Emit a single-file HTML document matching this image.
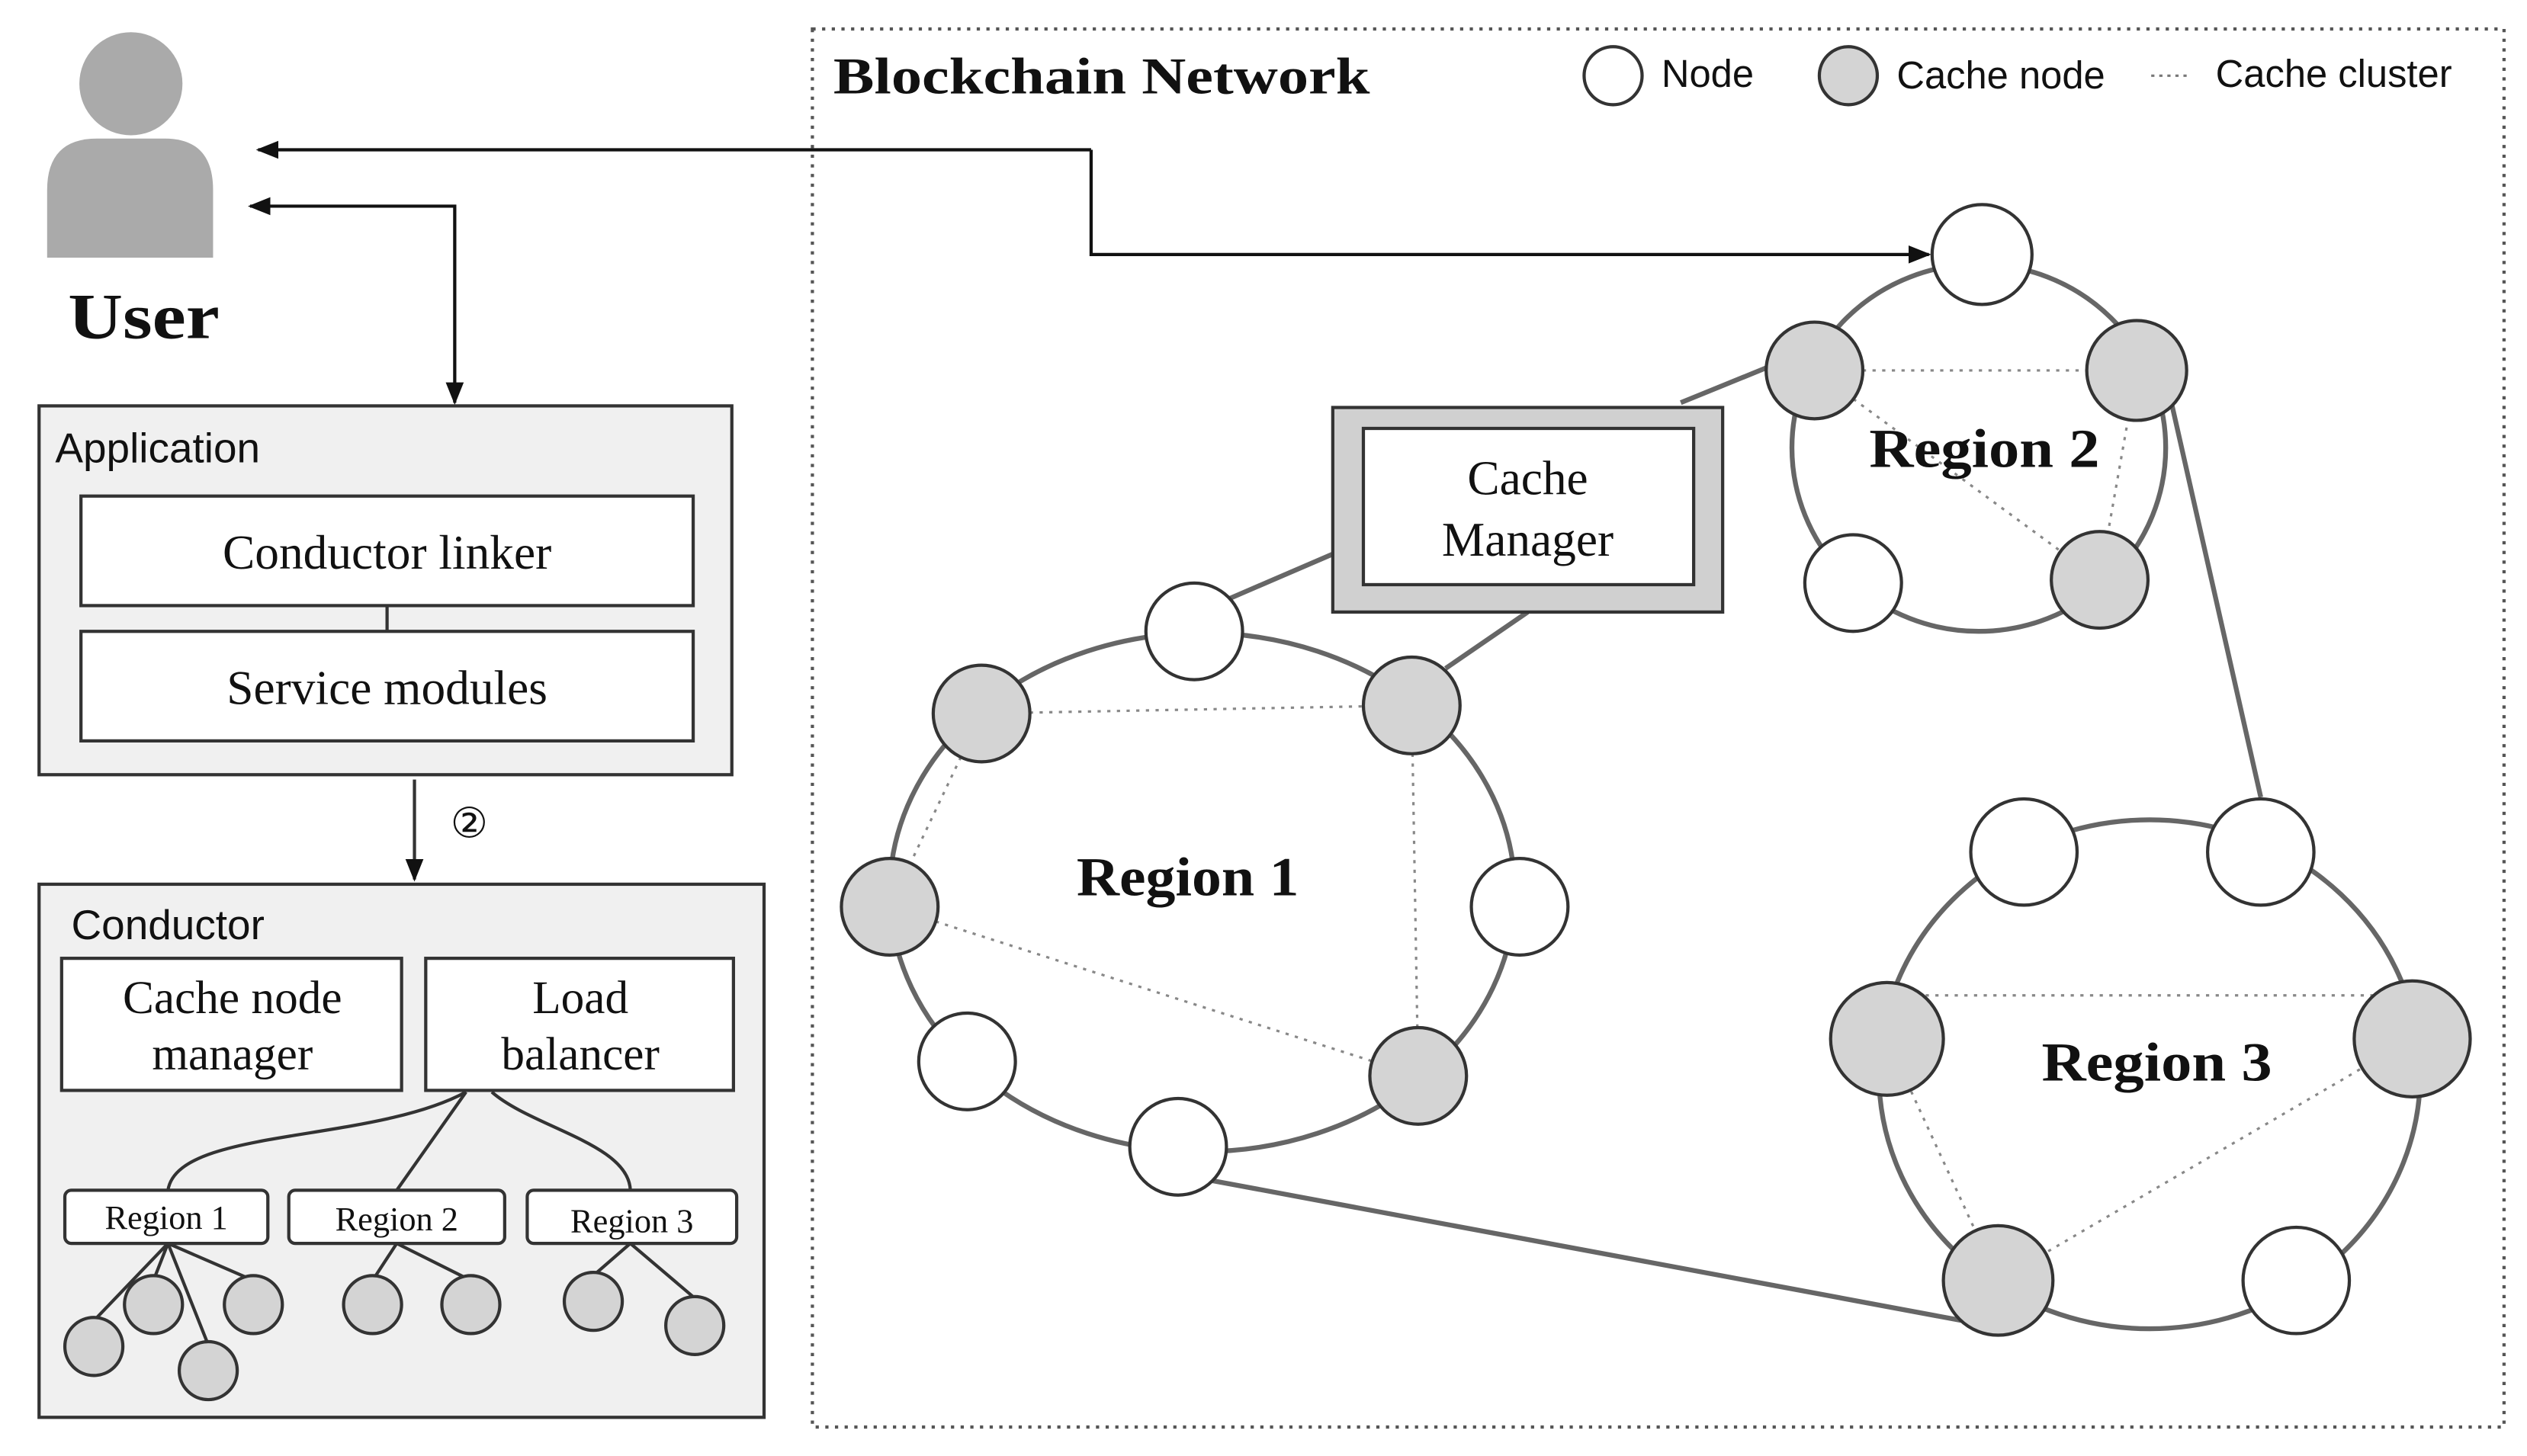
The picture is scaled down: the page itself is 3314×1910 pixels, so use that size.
<!DOCTYPE html>
<html><head><meta charset="utf-8"><style>html,body{margin:0;padding:0;background:#fff}svg{display:block}</style></head>
<body>
<svg width="3314" height="1910" viewBox="0 0 1568 904" xmlns="http://www.w3.org/2000/svg">
<defs>
<marker id="ah" viewBox="0 0 10 10" refX="9" refY="5" markerWidth="7" markerHeight="7" orient="auto-start-reverse"><path d="M0,1 L10,5 L0,9 z" fill="#111"/></marker>
</defs>
<rect width="1568" height="904" fill="#fff"/>
<circle cx="81" cy="52" r="32" fill="#aaa"/>
<path d="M29,160 L29,118 Q29,86 60,86 L102,86 Q132,86 132,118 L132,160 Z" fill="#aaa"/>
<text x="42" y="210" textLength="94" lengthAdjust="spacingAndGlyphs" font-family="Liberation Serif, serif" font-weight="bold" font-size="40" fill="#111">User</text>
<polyline points="677,93 160,93" fill="none" stroke="#111" stroke-width="2" marker-end="url(#ah)"/>
<polyline points="677,93 677,158 1197,158" fill="none" stroke="#111" stroke-width="2" marker-end="url(#ah)"/>
<polyline points="155,128 282,128 282,250" fill="none" stroke="#111" stroke-width="2" marker-start="url(#ah)" marker-end="url(#ah)"/>
<rect x="24" y="252" width="430" height="229" fill="#f0f0f0" stroke="#333" stroke-width="2"/>
<text x="34" y="287" font-family="Liberation Sans, sans-serif" font-size="26" fill="#111">Application</text>
<line x1="240" y1="376" x2="240" y2="392" stroke="#333" stroke-width="2"/>
<rect x="50" y="308" width="380" height="68" fill="#fff" stroke="#333" stroke-width="2"/>
<text x="240" y="353" text-anchor="middle" font-family="Liberation Serif, serif" font-size="30" fill="#111">Conductor linker</text>
<rect x="50" y="392" width="380" height="68" fill="#fff" stroke="#333" stroke-width="2"/>
<text x="240" y="437" text-anchor="middle" font-family="Liberation Serif, serif" font-size="30" fill="#111">Service modules</text>
<line x1="257" y1="484" x2="257" y2="546" stroke="#333" stroke-width="2" marker-end="url(#ah)"/>
<text x="291" y="520" text-anchor="middle" font-family="DejaVu Sans, sans-serif" font-size="26" fill="#111">②</text>
<rect x="24" y="549" width="450" height="331" fill="#f0f0f0" stroke="#333" stroke-width="2"/>
<text x="44" y="583" font-family="Liberation Sans, sans-serif" font-size="26" fill="#111">Conductor</text>
<rect x="38" y="595" width="211" height="82" fill="#fff" stroke="#333" stroke-width="2"/>
<text x="144" y="629" text-anchor="middle" font-family="Liberation Serif, serif" font-size="29" fill="#111">Cache node</text>
<text x="144" y="664" text-anchor="middle" font-family="Liberation Serif, serif" font-size="29" fill="#111">manager</text>
<rect x="264" y="595" width="191" height="82" fill="#fff" stroke="#333" stroke-width="2"/>
<text x="360" y="629" text-anchor="middle" font-family="Liberation Serif, serif" font-size="29" fill="#111">Load</text>
<text x="360" y="664" text-anchor="middle" font-family="Liberation Serif, serif" font-size="29" fill="#111">balancer</text>
<g fill="none" stroke="#333" stroke-width="2">
<path d="M289,678 C230,710 110,700 104,739"/>
<path d="M289,678 L246,739"/>
<path d="M305,678 C330,700 390,710 391,739"/>
<path d="M104,772 L58,820 M104,772 L95,795 M104,772 L129,835 M104,772 L157,795"/>
<path d="M246,772 L231,795 M246,772 L292,795"/>
<path d="M391,772 L368,792 M391,772 L431,806"/>
</g>
<g fill="#fff" stroke="#333" stroke-width="2">
<rect x="40" y="739" width="126" height="33" rx="4"/>
<rect x="179" y="739" width="134" height="33" rx="4"/>
<rect x="327" y="739" width="130" height="33" rx="4"/>
</g>
<g font-family="Liberation Serif, serif" font-size="21" fill="#111" text-anchor="middle">
<text x="103" y="763">Region 1</text><text x="246" y="764">Region 2</text><text x="392" y="765">Region 3</text>
</g>
<g fill="#d4d4d4" stroke="#333" stroke-width="2">
<circle cx="58" cy="836" r="18"/><circle cx="95" cy="810" r="18"/><circle cx="129" cy="851" r="18"/><circle cx="157" cy="810" r="18"/>
<circle cx="231" cy="810" r="18"/><circle cx="292" cy="810" r="18"/>
<circle cx="368" cy="808" r="18"/><circle cx="431" cy="823" r="18"/>
</g>
<rect x="504" y="18" width="1050" height="868" fill="none" stroke="#555" stroke-width="2" stroke-dasharray="2,4"/>
<text x="517" y="58" textLength="333" lengthAdjust="spacingAndGlyphs" font-family="Liberation Serif, serif" font-weight="bold" font-size="32" fill="#111">Blockchain Network</text>
<circle cx="1001" cy="47" r="18" fill="#fff" stroke="#333" stroke-width="2"/>
<text x="1031" y="54" font-family="Liberation Sans, sans-serif" font-size="24" fill="#111">Node</text>
<circle cx="1147" cy="47" r="18" fill="#d4d4d4" stroke="#333" stroke-width="2"/>
<text x="1177" y="55" font-family="Liberation Sans, sans-serif" font-size="24" fill="#111">Cache node</text>
<line x1="1335" y1="47" x2="1360" y2="47" stroke="#777" stroke-width="1.5" stroke-dasharray="2,3"/>
<text x="1375" y="54" font-family="Liberation Sans, sans-serif" font-size="24" fill="#111">Cache cluster</text>
<g stroke="#666" stroke-width="3" fill="none">
<line x1="827" y1="344" x2="762" y2="372"/>
<line x1="948" y1="380" x2="897" y2="415"/>
<line x1="1043" y1="250" x2="1097" y2="228"/>
<line x1="1348" y1="252" x2="1403" y2="495"/>
<line x1="752" y1="733" x2="1218" y2="820"/>
<ellipse cx="746" cy="554" rx="194" ry="161"/>
<ellipse cx="1228" cy="278" rx="116" ry="114"/>
<ellipse cx="1334" cy="667" rx="168" ry="158"/>
</g>
<g stroke="#888" stroke-width="1.5" stroke-dasharray="2,4" fill="none">
<line x1="609" y1="443" x2="876" y2="438"/><line x1="609" y1="443" x2="552" y2="563"/>
<line x1="876" y1="438" x2="880" y2="668"/><line x1="552" y1="563" x2="880" y2="668"/>
<line x1="1126" y1="230" x2="1326" y2="230"/><line x1="1126" y1="230" x2="1303" y2="360"/><line x1="1326" y1="230" x2="1303" y2="360"/>
<line x1="1171" y1="618" x2="1497" y2="618"/><line x1="1171" y1="645" x2="1240" y2="795"/><line x1="1240" y1="795" x2="1497" y2="645"/>
</g>
<rect x="827" y="253" width="242" height="127" fill="#d0d0d0" stroke="#333" stroke-width="2"/>
<rect x="846" y="266" width="205" height="97" fill="#fff" stroke="#333" stroke-width="2"/>
<text x="948" y="307" text-anchor="middle" font-family="Liberation Serif, serif" font-size="30" fill="#111">Cache</text>
<text x="948" y="345" text-anchor="middle" font-family="Liberation Serif, serif" font-size="30" fill="#111">Manager</text>
<g stroke="#333" stroke-width="2">
<circle cx="741" cy="392" r="30" fill="#fff"/><circle cx="609" cy="443" r="30" fill="#d4d4d4"/>
<circle cx="876" cy="438" r="30" fill="#d4d4d4"/><circle cx="552" cy="563" r="30" fill="#d4d4d4"/>
<circle cx="943" cy="563" r="30" fill="#fff"/><circle cx="600" cy="659" r="30" fill="#fff"/>
<circle cx="880" cy="668" r="30" fill="#d4d4d4"/><circle cx="731" cy="712" r="30" fill="#fff"/>
<circle cx="1230" cy="158" r="31" fill="#fff"/><circle cx="1126" cy="230" r="30" fill="#d4d4d4"/>
<circle cx="1326" cy="230" r="31" fill="#d4d4d4"/><circle cx="1150" cy="362" r="30" fill="#fff"/>
<circle cx="1303" cy="360" r="30" fill="#d4d4d4"/>
<circle cx="1256" cy="529" r="33" fill="#fff"/><circle cx="1403" cy="529" r="33" fill="#fff"/>
<circle cx="1171" cy="645" r="35" fill="#d4d4d4"/><circle cx="1497" cy="645" r="36" fill="#d4d4d4"/>
<circle cx="1240" cy="795" r="34" fill="#d4d4d4"/><circle cx="1425" cy="795" r="33" fill="#fff"/>
</g>
<g font-family="Liberation Serif, serif" font-weight="bold" font-size="34" fill="#111">
<text x="668" y="556" textLength="138" lengthAdjust="spacingAndGlyphs">Region 1</text>
<text x="1160" y="290" textLength="143" lengthAdjust="spacingAndGlyphs">Region 2</text>
<text x="1267" y="671" textLength="143" lengthAdjust="spacingAndGlyphs">Region 3</text>
</g>
</svg>
</body></html>
